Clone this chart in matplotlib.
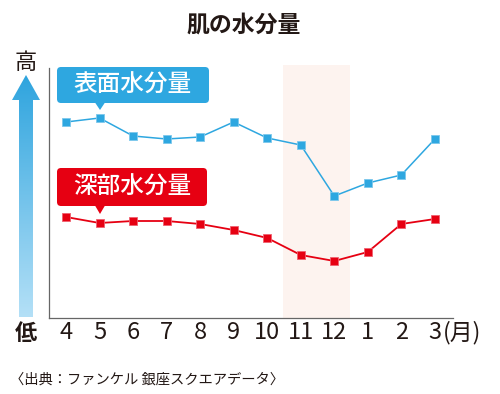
import numpy as np
import matplotlib
matplotlib.use("Agg")
import matplotlib.pyplot as plt
from matplotlib.patches import FancyBboxPatch, Polygon
from matplotlib.colors import LinearSegmentedColormap

plt.rcParams['font.family'] = ['Noto Sans CJK JP', 'DejaVu Sans']

months = ["4", "5", "6", "7", "8", "9", "10", "11", "12", "1", "2", "3"]
surface = [196, 200, 182, 179, 181, 196, 180, 173, 122, 135, 143, 179]
deep = [101, 95, 97, 97, 94, 88, 80, 63, 57, 66, 94, 99]
title = "肌の水分量"
surface_label = "表面水分量"
deep_label = "深部水分量"
source = "〈出典：ファンケル 銀座スクエアデータ〉"

BLUE = "#2ea7e0"
RED = "#e60012"

fig = plt.figure(figsize=(5, 3.94), dpi=100)
ax = fig.add_axes([49/500, 76/394, (453-49)/500, (318-65)/394])
x = np.arange(len(months))
ax.set_xlim(-0.507, 11.54)
ax.set_ylim(0, 253)

ax.axvspan(6.47, 8.46, color="#fdf3ef", zorder=0, lw=0)
ax.plot(x, surface, color=BLUE, lw=1.1, marker="s", ms=5.2,
        mfc=BLUE, mec="#7cc8ec", mew=0.6, zorder=3)
ax.plot(x, deep, color=RED, lw=1.3, marker="s", ms=5.2,
        mfc=RED, mec="#f06070", mew=0.6, zorder=3)

for s in ["top", "right"]:
    ax.spines[s].set_visible(False)
for s in ["left", "bottom"]:
    ax.spines[s].set_color("#666666")
    ax.spines[s].set_linewidth(0.9)
ax.spines["left"].set_bounds(0, 250)
ax.set_yticks([])
ax.set_xticks(x)
ax.set_xticklabels(months, fontsize=17, color="#231815")
ax.tick_params(axis="x", length=0, pad=2)

# overlay in pixel coordinates
ov = fig.add_axes([0, 0, 1, 1], zorder=5)
ov.set_xlim(0, 500)
ov.set_ylim(394, 0)
ov.axis("off")
ov.patch.set_alpha(0)

ov.text(244, 25, title, ha="center", va="center", fontsize=16.5,
        fontweight="bold", color="#231815")
ov.text(26, 62, "高", ha="center", va="center", fontsize=16, color="#231815")
ov.text(26, 334, "低", ha="center", va="center", fontsize=16,
        fontweight="bold", color="#231815")
ov.text(443, 333, "(月)", ha="left", va="center", fontsize=16.5,
        color="#231815")
ov.text(10, 380, source, ha="left", va="center", fontsize=10.3,
        color="#231815")

# gradient arrow
arrow = Polygon([(19, 317), (33, 317), (33, 100), (40, 100), (26, 75),
                 (12, 100), (19, 100)], closed=True, facecolor="none",
                edgecolor="none")
ov.add_patch(arrow)
cmap = LinearSegmentedColormap.from_list("g", ["#2ea4de", "#b4e0f7"])
grad = np.linspace(0, 1, 256).reshape(-1, 1)
im = ov.imshow(grad, cmap=cmap, extent=(10, 42, 317, 74), aspect="auto",
               interpolation="bilinear")
im.set_clip_path(arrow)
ov.set_xlim(0, 500)
ov.set_ylim(394, 0)


def label_box(x0, y0, w, h, tip_x, tip_y, color, text):
    box = FancyBboxPatch((x0, y0), w, h,
                         boxstyle="round,pad=0,rounding_size=4",
                         facecolor=color, edgecolor="none")
    ov.add_patch(box)
    tri = Polygon([(tip_x - 5, y0 + h - 0.5), (tip_x + 5, y0 + h - 0.5),
                   (tip_x, tip_y)], closed=True, facecolor=color,
                  edgecolor="none")
    ov.add_patch(tri)
    ov.text(x0 + w / 2, y0 + h / 2 + 0.5, text, ha="center", va="center",
            fontsize=17, color="white", fontweight="medium")


label_box(57, 67, 152, 36, 100, 110, BLUE, surface_label)
label_box(57, 168, 150, 38, 100, 214, RED, deep_label)

fig.savefig("out.png", dpi=100)
